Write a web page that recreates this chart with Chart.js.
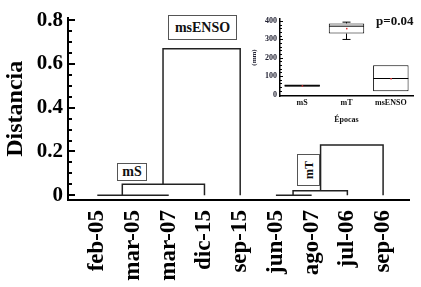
<!DOCTYPE html>
<html>
<head>
<meta charset="utf-8">
<script src="https://cdn.jsdelivr.net/npm/chart.js@4.4.0/dist/chart.umd.min.js"></script>
<style>
  html, body { margin: 0; padding: 0; background: #fff; }
  #wrap { position: relative; width: 421px; height: 287px; overflow: hidden; }
  #main { position: absolute; left: 0; top: 0; }
  #inset { position: absolute; left: 250px; top: 5px; }
  .tag { position: absolute; box-sizing: border-box; border: 1px solid #555; background: #fff;
         font: bold 14px 'Liberation Serif', serif; color: #111; text-align: center; }
  .tag.rot span { position: absolute; left: 50%; top: 50%; transform: translate(-50%, -50%) rotate(-90deg);
                  font-size: 12px; white-space: nowrap; }
  #pval { position: absolute; left: 376px; top: 13px; font: bold 13px 'Liberation Serif', serif; color: #111; }
</style>
</head>
<body>
<div id="wrap">
  <canvas id="main" width="421" height="287"></canvas>
  <canvas id="inset" width="171" height="120"></canvas>
  <div class="tag" style="left:117px;top:163px;width:30px;height:18px;line-height:16px;">mS</div>
  <div class="tag" style="left:168px;top:15px;width:69px;height:25px;line-height:23px;">msENSO</div>
  <div class="tag rot" style="left:297px;top:154px;width:23px;height:32px;"><span>mT</span></div>
  <div id="pval">p=0.04</div>
</div>
<script>
// Dendrograma: muestras en el orden del eje x
const categories = ['feb-05', 'mar-05', 'mar-07', 'dic-15', 'sep-15', 'jun-05', 'ago-07', 'jul-06', 'sep-06'];

// cada union: posicion izquierda/derecha (indice de muestra), altura y base de cada rama
const linkLeft      = [0, 0.7, 1.84, 5, 5.48, 6.25];
const linkRight     = [2, 3,   4,    6, 7,    8];
const linkHeight    = [0, 0.05, 0.67, 0, 0.02, 0.23];
const linkLeftBase  = [0, 0,    0.05, 0, 0,    0.02];
const linkRightBase = [0, 0,    0,    0, 0,    0];

const yMajor = [0, 0.2, 0.4, 0.6, 0.8];
const yMinorStep = 0.05;

// Recuadro: precipitacion por epoca (boxplot)
const epocas    = ['mS', 'mT', 'msENSO'];
const boxMin    = [42, 299, 18];
const boxQ1     = [42, 331, 18];
const boxMedian = [48, 371, 87];
const boxQ3     = [54, 386, 159];
const boxMax    = [54, 393, 159];
const boxMean   = [48, 359, 87];
const insetMajor = [0, 100, 200, 300, 400];
const insetMinorStep = 20;

const serif = "'Liberation Serif', 'Times New Roman', serif";

function stepValues(major, step) {
  const out = [];
  const top = major[major.length - 1];
  for (let v = major[0]; v <= top + step / 10; v += step) {
    out.push(Math.round(v * 1000) / 1000);
  }
  return out;
}

// marcas hacia dentro en el eje y
function innerTicks(major, step, majorLen, minorLen, lw) {
  const values = stepValues(major, step);
  const off = lw % 2 === 1 ? 0.5 : 0;
  return {
    id: 'innerTicks',
    afterDraw(chart) {
      const ctx = chart.ctx;
      const ys = chart.scales.y;
      const x0 = chart.chartArea.left;
      ctx.save();
      ctx.strokeStyle = '#000';
      ctx.lineWidth = lw;
      ctx.beginPath();
      values.forEach(v => {
        const py = Math.round(ys.getPixelForValue(v)) + off;
        const len = major.includes(v) ? majorLen : minorLen;
        ctx.moveTo(x0, py);
        ctx.lineTo(x0 + len, py);
      });
      ctx.stroke();
      ctx.restore();
    }
  };
}

const linkSets = linkLeft.map((xl, i) => ({
  data: [
    { x: xl, y: linkLeftBase[i] },
    { x: xl, y: linkHeight[i] },
    { x: linkRight[i], y: linkHeight[i] },
    { x: linkRight[i], y: linkRightBase[i] }
  ],
  showLine: true,
  borderColor: '#222',
  borderWidth: 1.5,
  pointRadius: 0,
  tension: 0
}));

new Chart(document.getElementById('main'), {
  type: 'scatter',
  data: { datasets: linkSets },
  plugins: [innerTicks(yMajor, yMinorStep, 7, 4, 2)],
  options: {
    responsive: false,
    animation: false,
    layout: { padding: { top: 12, right: 4, left: 0, bottom: 0 } },
    plugins: {
      legend: { display: false },
      tooltip: { enabled: false }
    },
    scales: {
      x: {
        type: 'linear',
        min: -0.82,
        max: 8.74,
        afterBuildTicks: s => { s.ticks = categories.map((c, i) => ({ value: i })); },
        afterFit: s => { s.height = 87; },
        ticks: {
          callback: v => categories[v],
          autoSkip: false,
          minRotation: 90,
          maxRotation: 90,
          padding: 10,
          color: '#000',
          font: { family: serif, size: 23, weight: 'bold' }
        },
        grid: { drawOnChartArea: false, drawTicks: false },
        border: { color: '#000', width: 2 }
      },
      y: {
        min: -0.022,
        max: 0.812,
        afterBuildTicks: s => { s.ticks = yMajor.map(v => ({ value: v })); },
        afterFit: s => { s.width = 68; },
        ticks: {
          callback: v => String(v),
          autoSkip: false,
          padding: 5,
          color: '#000',
          font: { family: serif, size: 21, weight: 'bold' }
        },
        title: {
          display: true,
          text: 'Distancia',
          color: '#000',
          padding: { top: 1, bottom: 0 },
          font: { family: serif, size: 24, weight: 'bold' }
        },
        grid: { drawOnChartArea: false, drawTicks: false },
        border: { color: '#000', width: 2 }
      }
    }
  }
});

// bigotes, mediana y media del boxplot
const boxExtras = {
  id: 'boxExtras',
  afterDatasetsDraw(chart) {
    const ctx = chart.ctx;
    const xs = chart.scales.x, ys = chart.scales.y;
    ctx.save();
    ctx.strokeStyle = '#000';
    ctx.lineWidth = 1;
    epocas.forEach((e, i) => {
      const cx = xs.getPixelForValue(i);
      const half = 17.5, cap = 4;
      const yMed = ys.getPixelForValue(boxMedian[i]);
      ctx.beginPath();
      ctx.moveTo(cx - half, yMed); ctx.lineTo(cx + half, yMed);
      // bigotes
      const yQ1 = ys.getPixelForValue(boxQ1[i]), yQ3 = ys.getPixelForValue(boxQ3[i]);
      const yLo = ys.getPixelForValue(boxMin[i]), yHi = ys.getPixelForValue(boxMax[i]);
      if (boxMin[i] < boxQ1[i]) {
        ctx.moveTo(cx, yQ1); ctx.lineTo(cx, yLo);
        ctx.moveTo(cx - cap, yLo); ctx.lineTo(cx + cap, yLo);
      }
      if (boxMax[i] > boxQ3[i]) {
        ctx.moveTo(cx, yQ3); ctx.lineTo(cx, yHi);
        ctx.moveTo(cx - cap, yHi); ctx.lineTo(cx + cap, yHi);
      }
      ctx.stroke();
      ctx.fillStyle = '#d33';
      ctx.fillRect(cx - 0.5, ys.getPixelForValue(boxMean[i]) - 0.5, 1.5, 1.5);
    });
    ctx.restore();
  }
};

new Chart(document.getElementById('inset'), {
  type: 'bar',
  data: {
    labels: epocas,
    datasets: [{
      data: epocas.map((e, i) => [boxQ1[i], boxQ3[i]]),
      backgroundColor: ['#000', '#fff', '#fff'],
      borderColor: '#000',
      borderWidth: 1,
      borderSkipped: false,
      barPercentage: 0.8,
      categoryPercentage: 1
    }]
  },
  plugins: [boxExtras, innerTicks(insetMajor, insetMinorStep, 3, 2, 1)],
  options: {
    responsive: false,
    animation: false,
    layout: { padding: { top: 14, right: 8, left: 0, bottom: 0 } },
    plugins: {
      legend: { display: false },
      tooltip: { enabled: false }
    },
    scales: {
      x: {
        afterFit: s => { s.height = 29; },
        ticks: { padding: 2, color: '#111', font: { family: serif, size: 8, weight: 'bold' } },
        title: { display: true, text: 'Épocas', color: '#111', padding: 0,
                 font: { family: serif, size: 8, weight: 'bold' } },
        grid: { display: false, drawTicks: false },
        border: { color: '#000', width: 1.5 }
      },
      y: {
        min: -8,
        max: 410,
        afterBuildTicks: s => { s.ticks = insetMajor.map(v => ({ value: v })); },
        afterFit: s => { s.width = 30; },
        ticks: {
          callback: v => String(v),
          autoSkip: false,
          padding: 3,
          color: '#223',
          font: { family: serif, size: 8, weight: 'bold' }
        },
        title: { display: true, text: '(mm)', color: '#223', padding: { top: 0, bottom: 0 },
                 font: { family: serif, size: 7, weight: 'bold' } },
        grid: { drawOnChartArea: false, drawTicks: false },
        border: { color: '#000', width: 1.5 }
      }
    }
  }
});
</script>
</body>
</html>
